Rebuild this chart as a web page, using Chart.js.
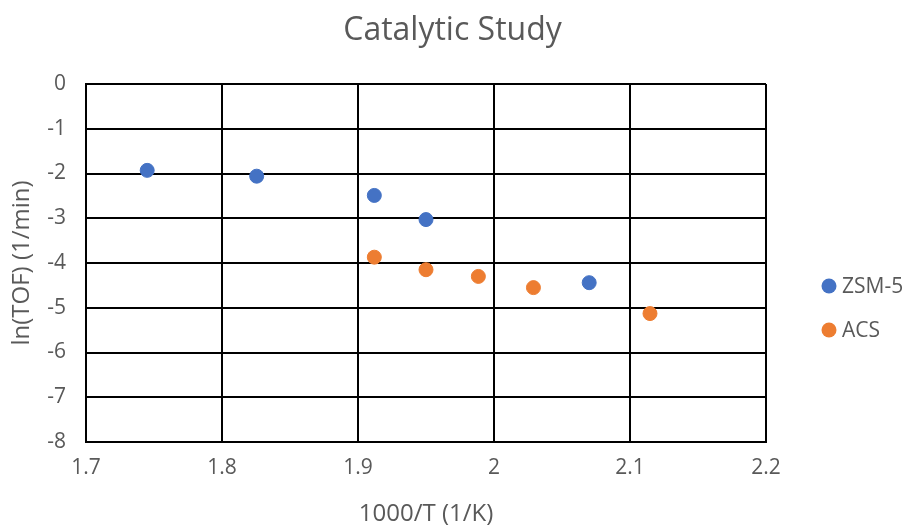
<!DOCTYPE html>
<html>
<head>
<meta charset="utf-8">
<script src="https://cdn.jsdelivr.net/npm/chart.js@4"></script>
<style>
html,body{margin:0;padding:0;background:#fff;}
#wrap{width:905px;height:525px;position:relative;}
</style>
</head>
<body>
<div id="wrap"><canvas id="c"></canvas></div>
<script>
const chartTitle = "Catalytic Study";
const xTitle = "1000/T (1/K)";
const yTitle = "ln(TOF) (1/min)";
const seriesNames = ["ZSM-5", "ACS"];
const seriesColors = ["#4472C4", "#ED7D31"];
const zsmX = [1.745, 1.8255, 1.912, 1.950, 2.070];
const zsmY = [-1.93, -2.06, -2.49, -3.03, -4.44];
const acsX = [1.912, 1.950, 1.9885, 2.029, 2.1147];
const acsY = [-3.87, -4.15, -4.30, -4.55, -5.13];
const xTicks = [1.7, 1.8, 1.9, 2.0, 2.1, 2.2];
const yTicks = [0, -1, -2, -3, -4, -5, -6, -7, -8];

const FONT = "'Open Sans'";
const TXT = "#595959";

function pts(xs, ys){ return xs.map((x,i)=>({x:x, y:ys[i]})); }

const decorPlugin = {
  id: 'decor',
  afterDraw(chart){
    const ctx = chart.ctx;
    const ca = chart.chartArea;
    ctx.save();
    // title centred on the whole canvas
    ctx.font = "32px " + FONT;
    ctx.fillStyle = TXT;
    ctx.textAlign = "center";
    ctx.textBaseline = "middle";
    ctx.fillText(chartTitle, chart.width / 2, 31);
    // legend
    const x0 = ca.right + 63;
    const ys = [ca.top + 202, ca.top + 246];
    ctx.font = "21px " + FONT;
    ctx.textAlign = "left";
    seriesNames.forEach((n,i)=>{
      ctx.beginPath();
      ctx.fillStyle = seriesColors[i];
      ctx.arc(x0, ys[i], 7.5, 0, Math.PI*2);
      ctx.fill();
      ctx.fillStyle = TXT;
      ctx.fillText(n, x0 + 13, ys[i] + 1);
    });
    ctx.restore();
  }
};

new Chart(document.getElementById('c'), {
  type: 'scatter',
  data: {
    datasets: [
      {label: seriesNames[0], data: pts(zsmX, zsmY), backgroundColor: seriesColors[0], borderColor: seriesColors[0], pointRadius: 7, pointBorderWidth: 1, pointHoverRadius: 7},
      {label: seriesNames[1], data: pts(acsX, acsY), backgroundColor: seriesColors[1], borderColor: seriesColors[1], pointRadius: 7, pointBorderWidth: 1, pointHoverRadius: 7}
    ]
  },
  options: {
    responsive: true,
    maintainAspectRatio: false,
    animation: false,
    layout: {padding: {left: 0, right: 139, top: 84, bottom: 0}},
    plugins: {
      legend: {display: false},
      tooltip: {enabled: false},
      title: {display: false}
    },
    scales: {
      x: {
        type: 'linear',
        min: 1.7, max: 2.2,
        afterBuildTicks(scale){ scale.ticks = xTicks.map(v=>({value:v})); },
        afterFit(scale){ scale.height = 83; },
        ticks: {
          color: TXT, font: {family: FONT, size: 21}, padding: 13,
          callback: (v)=> String(Math.round(v*10)/10)
        },
        grid: {color: '#000', lineWidth: 2, drawTicks: false},
        border: {color: '#000', width: 2},
        title: {display: true, text: xTitle, color: TXT, font: {family: FONT, size: 24}, padding: {top: -4, bottom: -4}}
      },
      y: {
        type: 'linear',
        min: -8, max: 0,
        afterBuildTicks(scale){ scale.ticks = yTicks.map(v=>({value:v})); },
        afterFit(scale){ scale.width = 86; },
        ticks: {color: TXT, font: {family: FONT, size: 21}, padding: 20},
        grid: {color: '#000', lineWidth: 2, drawTicks: false},
        border: {color: '#000', width: 2},
        title: {display: true, text: yTitle, color: TXT, font: {family: FONT, size: 24}, padding: {top: 8, bottom: 0}}
      }
    }
  },
  plugins: [decorPlugin]
});
</script>
</body>
</html>
